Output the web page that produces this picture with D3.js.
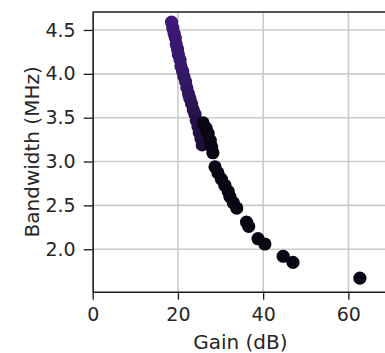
<!DOCTYPE html>
<html>
<head>
<meta charset="utf-8">
<script src="https://cdn.jsdelivr.net/npm/d3@7"></script>
<style>
  body { margin: 0; background: #fff; }
  svg { display: block; }
  text { font-family: "DejaVu Sans", sans-serif; fill: #262626; }
</style>
</head>
<body>
<svg id="chart" width="385" height="353"></svg>
<script>
// purple run (low gain, wide band)
var gainA = [18.5, 18.8, 19.1, 19.4, 19.6, 19.9, 20.1, 20.5, 20.7, 21.1, 21.4, 21.8, 22.1, 22.5, 22.8, 23.2, 23.6, 24.0, 24.3, 24.7, 25.0, 25.4, 25.7]
var bwA   = [4.59, 4.52, 4.46, 4.41, 4.34, 4.28, 4.22, 4.16, 4.09, 4.03, 3.97, 3.91, 3.84, 3.77, 3.72, 3.66, 3.59, 3.54, 3.47, 3.40, 3.33, 3.26, 3.19]
// black run
var gainB = [25.9, 26.6, 27.1, 27.6, 27.9, 28.2, 28.7, 29.4, 30.2, 31.0, 31.8, 32.2, 33.0, 33.8, 36.1, 36.6, 38.8, 40.4, 44.7, 47.0, 62.7]
var bwB   = [3.44, 3.38, 3.32, 3.24, 3.17, 3.10, 2.94, 2.87, 2.80, 2.73, 2.66, 2.60, 2.53, 2.47, 2.31, 2.26, 2.12, 2.06, 1.92, 1.85, 1.67]

var xTicks = [0, 20, 40, 60]
var yTicks = [2.0, 2.5, 3.0, 3.5, 4.0, 4.5]

var svg = d3.select("#chart")
var pLeft = 92.7, pRight = 388, pTop = 12, pBottom = 291.7

var x = d3.scaleLinear().domain([0, 69.3]).range([pLeft, pRight])
var y = d3.scaleLinear().domain([1.516, 4.705]).range([pBottom, pTop])
var purple = d3.scaleLinear().domain([3.2, 3.9, 4.6]).range(["#1e0f38", "#331865", "#3d1878"])

// grid
svg.append("g").selectAll("line").data(xTicks).enter().append("line")
  .attr("x1", function(d){ return x(d) }).attr("x2", function(d){ return x(d) })
  .attr("y1", pTop).attr("y2", pBottom)
  .style("stroke", "#cbcbcb").style("stroke-width", 1.6)
svg.append("g").selectAll("line").data(yTicks).enter().append("line")
  .attr("x1", pLeft).attr("x2", pRight)
  .attr("y1", function(d){ return y(d) }).attr("y2", function(d){ return y(d) })
  .style("stroke", "#cbcbcb").style("stroke-width", 1.6)

// points
var ptsA = gainA.map(function(g, i){ return {g: g, b: bwA[i]} })
var ptsB = gainB.map(function(g, i){ return {g: g, b: bwB[i]} })

svg.append("g").selectAll("circle").data(ptsA).enter().append("circle")
  .attr("cx", function(d){ return x(d.g) })
  .attr("cy", function(d){ return y(d.b) })
  .attr("r", 6.6)
  .style("fill", function(d){ return purple(d.b) })

svg.append("g").selectAll("circle").data(ptsB).enter().append("circle")
  .attr("cx", function(d){ return x(d.g) })
  .attr("cy", function(d){ return y(d.b) })
  .attr("r", 6.6)
  .style("fill", "#0b0614")

// axes
var xAxis = svg.append("g").attr("transform", "translate(0," + pBottom + ")")
  .call(d3.axisBottom(x).tickValues(xTicks).tickSize(8).tickPadding(8).tickSizeOuter(0))
var yAxis = svg.append("g").attr("transform", "translate(" + pLeft + ",0)")
  .call(d3.axisLeft(y).tickValues(yTicks).tickFormat(d3.format(".1f")).tickSize(9).tickPadding(8).tickSizeOuter(0))

;[xAxis, yAxis].forEach(function(a){
  a.select(".domain").style("stroke", "#1a1a1a").style("stroke-width", 1.5)
  a.selectAll(".tick line").style("stroke", "#1a1a1a").style("stroke-width", 1.3)
  a.selectAll(".tick text").style("font-size", "19px").style("fill", "#262626")
})

// top spine
svg.append("line").attr("x1", pLeft).attr("x2", pRight).attr("y1", pTop).attr("y2", pTop)
  .style("stroke", "#1a1a1a").style("stroke-width", 1.5)

// labels
svg.append("text").text("Gain (dB)")
  .attr("x", (pLeft + pRight) / 2).attr("y", 349)
  .attr("text-anchor", "middle").style("font-size", "20px")

svg.append("text").text("Bandwidth (MHz)")
  .attr("transform", "translate(39," + (pTop + pBottom) / 2 + ") rotate(-90)")
  .attr("text-anchor", "middle").style("font-size", "20px")
</script>
</body>
</html>
